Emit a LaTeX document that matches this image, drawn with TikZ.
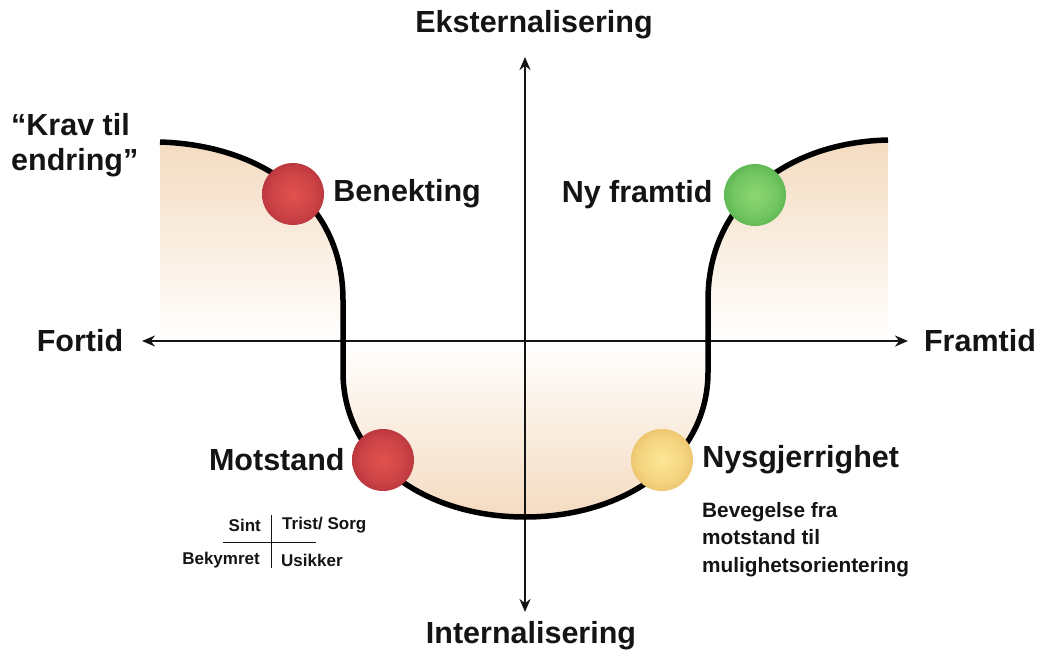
\documentclass[tikz,border=0pt]{standalone}
\usepackage{fontspec}
\setmainfont{Liberation Sans}
\usetikzlibrary{arrows.meta, positioning}

\definecolor{peach}{RGB}{244,219,192}
\definecolor{inkblack}{RGB}{20,20,20}
\definecolor{redin}{RGB}{226,82,78}
\definecolor{redout}{RGB}{140,22,44}
\definecolor{greenin}{RGB}{140,215,115}
\definecolor{greenout}{RGB}{40,145,45}
\definecolor{amberin}{RGB}{252,230,150}
\definecolor{amberout}{RGB}{220,158,62}

\pgfdeclareradialshading{redorb}{\pgfpoint{0bp}{0bp}}{color(0bp)=(redin); color(18bp)=(redin!75!redout); color(46bp)=(redout); color(50bp)=(redout)}
\pgfdeclareradialshading{greenorb}{\pgfpoint{0bp}{0bp}}{color(0bp)=(greenin); color(18bp)=(greenin!75!greenout); color(46bp)=(greenout); color(50bp)=(greenout)}
\pgfdeclareradialshading{amberorb}{\pgfpoint{0bp}{0bp}}{color(0bp)=(amberin); color(18bp)=(amberin!75!amberout); color(46bp)=(amberout); color(50bp)=(amberout)}

\begin{document}
\begin{tikzpicture}[
    x=1pt, y=-1pt,
    axis/.style={{Stealth[length=13pt, width=11pt]}-{Stealth[length=13pt, width=11pt]}, line width=2.6pt, inkblack},
    curve/.style={line width=5.5pt, black},
    orb/.style={circle, minimum size=62pt, inner sep=0pt},
    lbl/.style={font=\fontsize{30.5}{35}\selectfont\bfseries, text=inkblack, inner sep=1pt},
    sub/.style={font=\fontsize{20.8}{27.5}\selectfont\bfseries, text=inkblack, inner sep=0pt, align=left},
    mini/.style={font=\fontsize{17}{20}\selectfont\bfseries, text=inkblack, inner sep=0pt}
]
\useasboundingbox (0,0) rectangle (1041,651);

% ---- Shaded areas behind the curve ----
\shade[top color=peach, bottom color=white]
    (160,142) .. controls (260,145) and (343,200) .. (343,300) -- (343,341) -- (160,341) -- cycle;
\shade[top color=peach, bottom color=white]
    (888,140) .. controls (790,142) and (708,200) .. (708,300) -- (708,341) -- (888,341) -- cycle;
\shade[top color=white, bottom color=peach]
    (343,341) -- (343,372) .. controls (343,460) and (425,517) .. (525,517)
    .. controls (625,517) and (708,460) .. (708,372) -- (708,341) -- cycle;

% ---- Axes ----
\coordinate (west)  at (142,341);
\coordinate (east)  at (908,341);
\coordinate (north) at (525,57);
\coordinate (south) at (525,612);
\draw[axis] (west) -- (east);
\draw[axis] (south) -- (north);

\node[lbl] (ekst)    at (534,25)  {Eksternalisering};
\node[lbl] (intern)  at (531,636) {Internalisering};
\node[lbl] (fortid)  at (80,341)  {Fortid};
\node[lbl] (framtid) at (980,341) {Framtid};

% ---- The change curve ----
\draw[curve]
    (160,142) .. controls (260,145) and (343,200) .. (343,300) -- (343,372)
    .. controls (343,460) and (425,517) .. (525,517)
    .. controls (625,517) and (708,460) .. (708,372) -- (708,300)
    .. controls (708,200) and (790,142) .. (888,140);

\node[lbl, align=left, anchor=west] (krav) at (10,145) {“Krav til\\endring”};

% ---- Phases ----
\node[orb, shading=redorb]   (benekting) at (293,194) {};
\node[lbl, right=8pt of benekting] (benektinglbl) {Benekting};

\node[orb, shading=redorb]   (motstand) at (383,460) {};
\node[lbl, left=6pt of motstand] (motstandlbl) {Motstand};

\node[orb, shading=amberorb] (nysgj) at (662,460) {};
\node[lbl, right=8pt of nysgj] (nysgjlbl) {Nysgjerrighet};
\node[sub, anchor=north west] (bevegelse) at (702,502)
    {Bevegelse fra\\motstand til\\mulighetsorientering};

\node[orb, shading=greenorb] (nyframtid) at (755,195) {};
\node[lbl, left=10pt of nyframtid] (nyframtidlbl) {Ny framtid};

% ---- Emotions under Motstand ----
\node[mini, anchor=east] (sint)    at (261,525) {Sint};
\node[mini, anchor=west] (trist)   at (282,525) {Trist/ Sorg};
\node[mini, anchor=east] (bekym)   at (260,560) {Bekymret};
\node[mini, anchor=west] (usikker) at (281,560) {Usikker};
\draw[line width=1pt, inkblack] (223,542) -- (316,542);
\draw[line width=1pt, inkblack] (271,515) -- (271,568);

\end{tikzpicture}
\end{document}
